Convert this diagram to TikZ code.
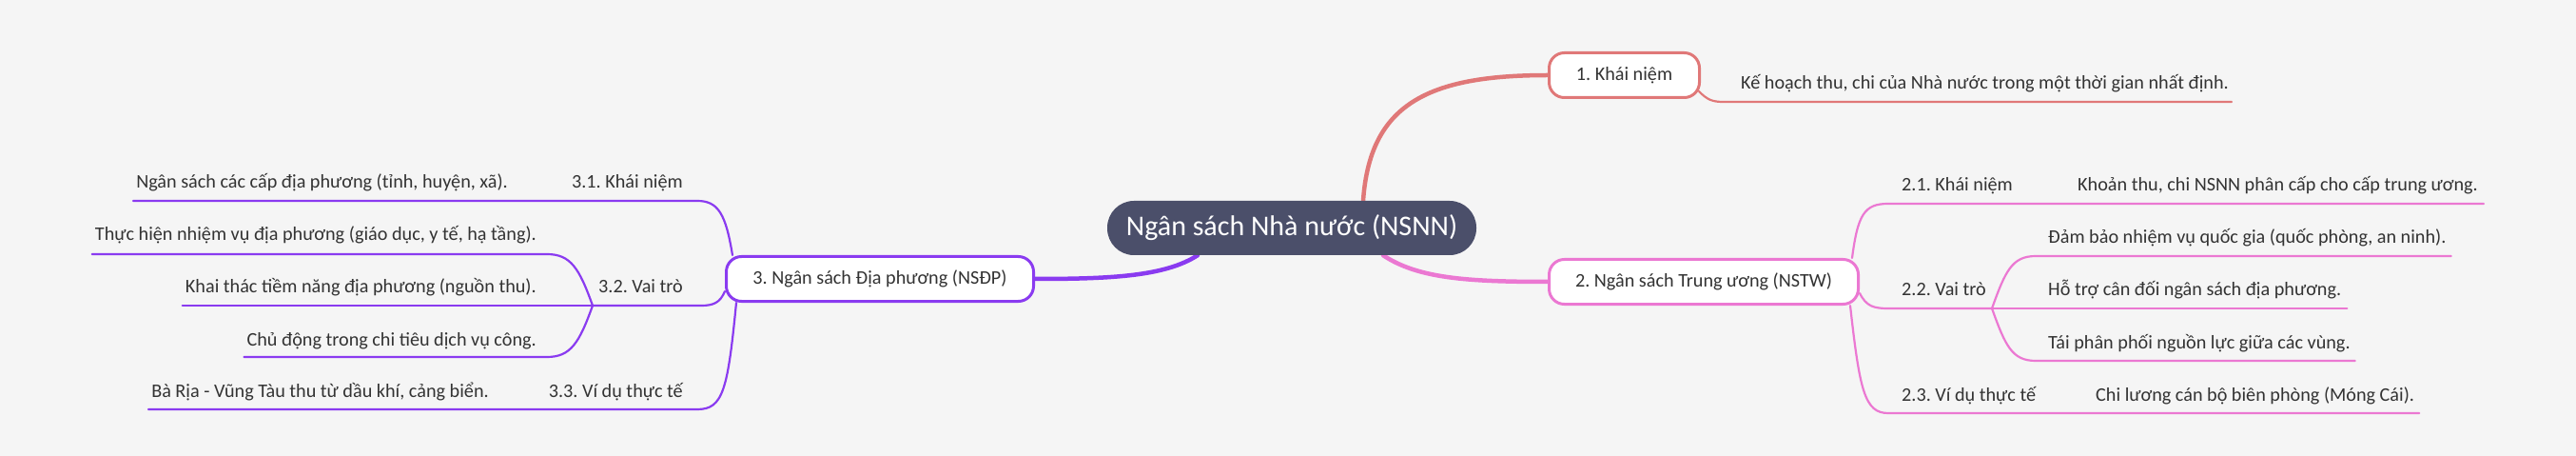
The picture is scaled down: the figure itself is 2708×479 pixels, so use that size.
\documentclass[tikz,border=0pt]{standalone}
\usepackage{fontspec}
\setmainfont{Carlito}
\frenchspacing
\definecolor{bgc}{HTML}{F5F5F5}
\definecolor{rootc}{HTML}{4B4F6A}
\definecolor{redc}{HTML}{E07878}
\definecolor{pinkc}{HTML}{EB78D2}
\definecolor{purc}{HTML}{8A3BF0}
\definecolor{txt}{HTML}{333333}
\pgfdeclarelayer{bg}
\pgfsetlayers{bg,main}
\tikzset{
  root/.style={fill=rootc, text=white, rounded corners=28bp, minimum width=388bp, minimum height=57bp, inner sep=0pt, font=\fontsize{30bp}{36bp}\selectfont},
  topic/.style={fill=white, line width=3bp, rounded corners=16bp, minimum height=47bp, inner sep=0pt, text=txt, font=\fontsize{20.2bp}{24bp}\selectfont},
  lbl/.style={inner sep=0pt, text=txt, font=\fontsize{20.2bp}{24bp}\selectfont},
  mainline/.style={line width=4.5bp, line cap=round},
  subline/.style={line width=2.2bp, line cap=round, line join=round},
}
\begin{document}
\begin{tikzpicture}[x=1bp,y=-1bp]
\useasboundingbox (0,0) rectangle (2708,479);
% nodes
\node[root] (root) at (1358,239.5) {Ngân sách Nhà nước (NSNN)};
\node[topic, draw=redc, minimum width=158bp] (n1) at (1707.5,79) {1. Khái niệm};
\node[topic, draw=pinkc, minimum width=325bp] (n2) at (1791,296) {2. Ngân sách Trung ương (NSTW)};
\node[topic, draw=purc, minimum width=323bp] (n3) at (925,293) {3. Ngân sách Địa phương (NSĐP)};
% labels right
\node[lbl, anchor=base west] (t1) at (1830,94) {Kế hoạch thu, chi của Nhà nước trong một thời gian nhất định.};
\node[lbl, anchor=base west] (t21) at (1999,201) {2.1. Khái niệm};
\node[lbl, anchor=base west] (t21c) at (2184,201) {Khoản thu, chi NSNN phân cấp cho cấp trung ương.};
\node[lbl, anchor=base west] (t22) at (1999,311) {2.2. Vai trò};
\node[lbl, anchor=base west] (t22a) at (2153,256) {Đảm bảo nhiệm vụ quốc gia (quốc phòng, an ninh).};
\node[lbl, anchor=base west] (t22b) at (2153,311) {Hỗ trợ cân đối ngân sách địa phương.};
\node[lbl, anchor=base west] (t22c) at (2153,366) {Tái phân phối nguồn lực giữa các vùng.};
\node[lbl, anchor=base west] (t23) at (1999,421) {2.3. Ví dụ thực tế};
\node[lbl, anchor=base west] (t23c) at (2203,421) {Chi lương cán bộ biên phòng (Móng Cái).};
% labels left
\node[lbl, anchor=base east] (t31) at (718,198) {3.1. Khái niệm};
\node[lbl, anchor=base east] (t31c) at (534,198) {Ngân sách các cấp địa phương (tỉnh, huyện, xã).};
\node[lbl, anchor=base east] (t32) at (718,308) {3.2. Vai trò};
\node[lbl, anchor=base east] (t32a) at (564,253) {Thực hiện nhiệm vụ địa phương (giáo dục, y tế, hạ tầng).};
\node[lbl, anchor=base east] (t32b) at (564,308) {Khai thác tiềm năng địa phương (nguồn thu).};
\node[lbl, anchor=base east] (t32c) at (564,363) {Chủ động trong chi tiêu dịch vụ công.};
\node[lbl, anchor=base east] (t33) at (718,417) {3.3. Ví dụ thực tế};
\node[lbl, anchor=base east] (t33c) at (514,417) {Bà Rịa - Vũng Tàu thu từ dầu khí, cảng biển.};
% coordinates
\coordinate (l1) at (1812,107);
\coordinate (l21) at (1985,214);
\coordinate (l22) at (1985,324);
\coordinate (b22) at (2094,324);
\coordinate (c22a) at (2140,269);
\coordinate (c22c) at (2140,379);
\coordinate (l23) at (1985,434);
\coordinate (l31) at (733,211);
\coordinate (l32) at (737,321);
\coordinate (b32) at (623,321);
\coordinate (c32a) at (575,267);
\coordinate (c32c) at (575,375);
\coordinate (l33) at (733,430);
\begin{pgfonlayer}{bg}
\fill[bgc] (0,0) rectangle (2708,479);
% main connectors
\draw[mainline, redc] ([xshift=75bp]root.north) .. controls (1440,110) and (1500,79) .. (n1.west);
\draw[mainline, pinkc] ([xshift=96bp]root.south) .. controls (1490,292) and (1540,296) .. (n2.west);
\draw[mainline, purc] ([xshift=-99bp]root.south) .. controls (1225,290) and (1170,293) .. (n3.east);
% branch 1
\draw[subline, redc] ([xshift=-2bp,yshift=8bp]n1.south east) .. controls (1795,105) and (1800,107) .. (l1) -- ([xshift=3bp]l1 -| t1.east);
% branch 2
\draw[subline, pinkc] ([xshift=-8bp]n2.north east) .. controls (1953,225) and (1960,214) .. (l21) -- ([xshift=6bp]l21 -| t21c.east);
\draw[subline, pinkc] ([yshift=-12bp]n2.east) .. controls (1962,322) and (1970,324) .. (l22) -- (b22);
\draw[subline, pinkc] (b22) .. controls (2108,285) and (2115,269) .. (c22a) -- ([xshift=5bp]c22a -| t22a.east);
\draw[subline, pinkc] (b22) -- ([xshift=6bp]b22 -| t22b.east);
\draw[subline, pinkc] (b22) .. controls (2108,363) and (2115,379) .. (c22c) -- ([xshift=5bp]c22c -| t22c.east);
\draw[subline, pinkc] ([xshift=-10bp]n2.south east) .. controls (1955,410) and (1960,434) .. (l23) -- ([xshift=5bp]l23 -| t23c.east);
% branch 3
\draw[subline, purc] ([xshift=8bp]n3.north west) .. controls (763,225) and (755,211) .. (l31) -- ([xshift=-3bp]l31 -| t31c.west);
\draw[subline, purc] ([yshift=-13bp]n3.west) .. controls (757,318) and (750,321) .. (l32) -- (b32);
\draw[subline, purc] (b32) .. controls (609,282) and (600,267) .. (c32a) -- ([xshift=-3bp]c32a -| t32a.west);
\draw[subline, purc] (b32) -- ([xshift=-3bp]b32 -| t32b.west);
\draw[subline, purc] (b32) .. controls (609,360) and (600,375) .. (c32c) -- ([xshift=-3bp]c32c -| t32c.west);
\draw[subline, purc] ([xshift=12bp]n3.south west) .. controls (765,410) and (760,430) .. (l33) -- ([xshift=-3bp]l33 -| t33c.west);
\end{pgfonlayer}
\end{tikzpicture}
\end{document}
